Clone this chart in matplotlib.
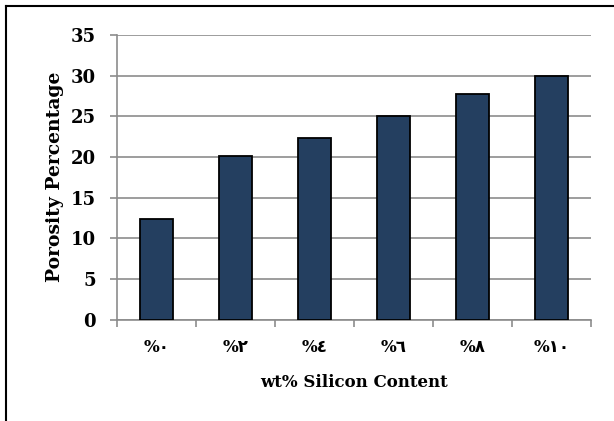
import matplotlib
matplotlib.use("Agg")
import matplotlib.pyplot as plt
from matplotlib.lines import Line2D
import numpy as np

# data
categories = ["%\u0660", "%\u0662", "%\u0664", "%\u0666", "%\u0668", "%\u0661\u0660"]
porosity = [12.4, 20.1, 22.3, 25.0, 27.7, 30.0]
yticks = [0, 5, 10, 15, 20, 25, 30, 35]

fonts = ["DejaVu Serif", "DejaVu Sans"]
plt.rcParams["font.family"] = fonts

fig = plt.figure(figsize=(6.14, 4.21), dpi=100)
ax = fig.add_axes([0.1906, 0.2409, 0.7719, 0.676])

x = np.arange(len(categories))
ax.bar(x, porosity, width=0.41, color="#243F60", edgecolor="black", linewidth=1.3, zorder=3)

ax.set_xlim(-0.5, len(categories) - 0.5)
ax.set_ylim(0, 35)
ax.set_yticks(yticks)
ax.set_yticklabels([str(v) for v in yticks], fontsize=13, fontweight="bold")
ax.grid(axis="y", color="#8c8c8c", linewidth=1.2, zorder=0)

# category labels centered, tick marks at category borders
ax.set_xticks(x)
ax.set_xticklabels(categories, fontsize=12, fontweight="bold", family=fonts)
ax.tick_params(axis="x", length=0, pad=14)
ax.set_xticks(np.arange(len(categories) + 1) - 0.5, minor=True)
ax.tick_params(axis="x", which="minor", length=5, color="#8c8c8c", width=1.2)
ax.tick_params(axis="y", length=5, color="#8c8c8c", width=1.2, pad=10)

for s in ["top", "right"]:
    ax.spines[s].set_visible(False)
for s in ["left", "bottom"]:
    ax.spines[s].set_color("#8c8c8c")
    ax.spines[s].set_linewidth(1.2)

ax.set_ylabel("Porosity Percentage", fontsize=13.5, fontweight="bold", labelpad=5)
ax.set_xlabel("wt% Silicon Content", fontsize=12, fontweight="bold", labelpad=13)

# chart frame (left and top edges)
fig.add_artist(Line2D([5.5 / 614, 5.5 / 614], [0, 1 - 5.5 / 421], color="black", linewidth=1.5))
fig.add_artist(Line2D([5.5 / 614, 1], [1 - 5.5 / 421, 1 - 5.5 / 421], color="black", linewidth=1.5))

fig.savefig("out.png", dpi=100)
